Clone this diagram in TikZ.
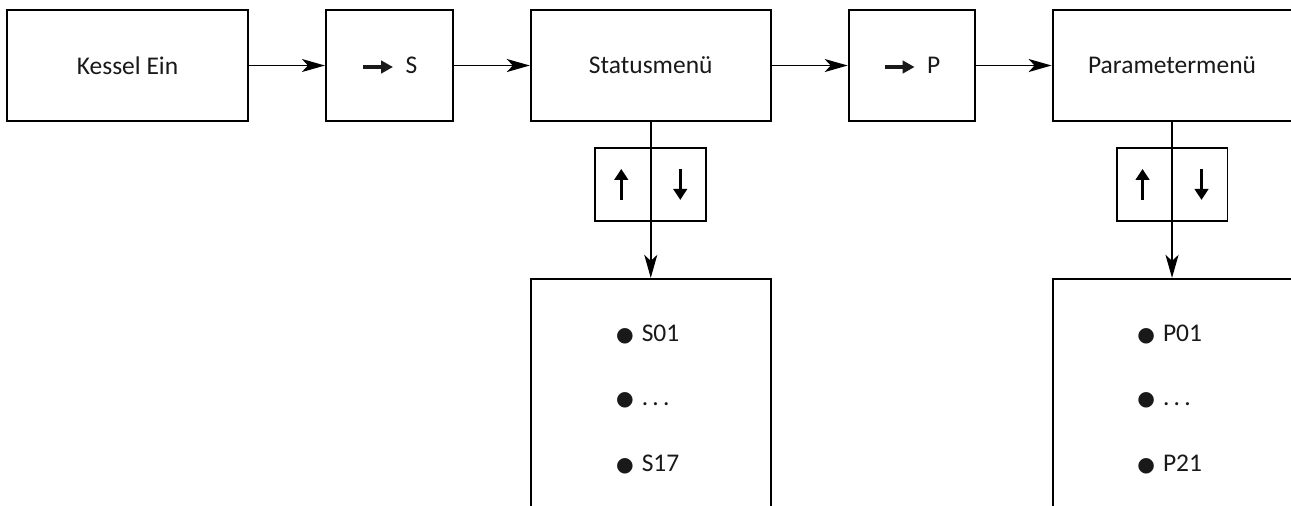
\documentclass[tikz,border=0pt]{standalone}
\usepackage{fontspec}
\setmainfont{Carlito}
\newfontfamily\symfont{DejaVu Sans}
\usepackage{tikz}
\usetikzlibrary{positioning,arrows.meta}

\newcommand{\menuarrow}{\tikz[baseline=-0.55ex]\draw[line width=1.9pt,-{Triangle[length=0.24cm,width=0.25cm]}] (0,0) -- (0.6cm,0);}
\newcommand{\itembullet}{{\symfont\fontsize{11.5pt}{11.5pt}\selectfont ●}}

\begin{document}
\begin{tikzpicture}[x=0.02cm, y=-0.02cm, node distance=1.52cm,
  every node/.style={font=\fontsize{14.5pt}{17pt}\selectfont, text=black!90},
  box/.style={draw, line width=1.1pt, minimum height=2.22cm, inner sep=0pt},
  keybox/.style={draw, line width=1.1pt, minimum width=2.22cm, minimum height=1.46cm, inner sep=0pt},
  listbox/.style={draw, line width=1.1pt, minimum width=4.8cm, minimum height=6cm, inner sep=0pt},
  item/.style={inner sep=0pt, anchor=west},
  conn/.style={line width=1.1pt, -{Stealth[length=0.46cm, width=0.26cm, inset=0.12cm]}},
  keyarrow/.style={line width=2pt, -{Triangle[length=0.22cm, width=0.27cm]}}]
  \useasboundingbox (0,0) rectangle (1291,505);
  \clip (0,0) rectangle (1291,505);

  % top row
  \node[box, minimum width=4.82cm] (kessel) at (127.5,65.5) {Kessel Ein};
  \node[box, minimum width=2.54cm, right=of kessel] (skey) {\menuarrow\hspace{0.22cm}S};
  \node[box, minimum width=4.8cm, right=of skey] (status) {Statusmenü};
  \node[box, minimum width=2.52cm, right=of status] (pkey) {\menuarrow\hspace{0.22cm}P};
  \node[box, minimum width=4.78cm, right=of pkey] (param) {Parametermenü};

  \draw[conn] (kessel) -- (skey);
  \draw[conn] (skey) -- (status);
  \draw[conn] (status) -- (pkey);
  \draw[conn] (pkey) -- (param);

  % up/down keys
  \node[keybox, below=0.5cm of status] (statkeys) {};
  \node[keybox, below=0.5cm of param] (paramkeys) {};
  \foreach \k in {statkeys, paramkeys} {
    \draw[keyarrow] ([xshift=-0.59cm, yshift=-0.31cm]\k.center) -- ([xshift=-0.59cm, yshift=0.31cm]\k.center);
    \draw[keyarrow] ([xshift=0.59cm, yshift=0.31cm]\k.center) -- ([xshift=0.59cm, yshift=-0.31cm]\k.center);
  }

  % menu lists
  \node[listbox, below=1.12cm of statkeys] (statlist) {};
  \node[listbox, minimum width=4.78cm, below=1.12cm of paramkeys] (paramlist) {};

  \draw[conn] (status) -- (statlist);
  \draw[conn] (param) -- (paramlist);

  \node[item] (s01) at ([xshift=-0.7cm, yshift=-1.14cm]statlist.north) {\itembullet\hspace{0.16cm}S01};
  \node[item, below=1.3cm of s01.west, anchor=west] (sdots) {\itembullet\hspace{0.16cm}.\,.\,.};
  \node[item, below=1.3cm of sdots.west, anchor=west] (s17) {\itembullet\hspace{0.16cm}S17};

  \node[item] (p01) at ([xshift=-0.7cm, yshift=-1.14cm]paramlist.north) {\itembullet\hspace{0.16cm}P01};
  \node[item, below=1.3cm of p01.west, anchor=west] (pdots) {\itembullet\hspace{0.16cm}.\,.\,.};
  \node[item, below=1.3cm of pdots.west, anchor=west] (p21) {\itembullet\hspace{0.16cm}P21};
\end{tikzpicture}
\end{document}
